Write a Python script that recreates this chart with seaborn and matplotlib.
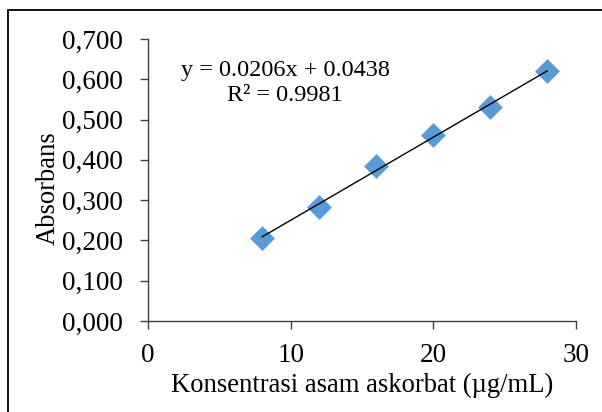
import numpy as np
import pandas as pd
import matplotlib
matplotlib.use("Agg")
import matplotlib.pyplot as plt
import seaborn as sns
from matplotlib.patches import Rectangle

# Data
konsentrasi = [8, 12, 16, 20, 24, 28]
absorbans = [0.207, 0.284, 0.385, 0.462, 0.532, 0.620]
x_ticks = [0, 10, 20, 30]
y_ticks = [0.0, 0.1, 0.2, 0.3, 0.4, 0.5, 0.6, 0.7]
eq_text = "y = 0.0206x + 0.0438"
r2_text = "R\u00b2 = 0.9981"
x_label = "Konsentrasi asam askorbat (\u00b5g/mL)"
y_label = "Absorbans"

sns.set_theme(style="white")
plt.rcParams['font.family'] = ['Liberation Serif', 'DejaVu Serif']

df = pd.DataFrame({"x": konsentrasi, "y": absorbans})
coef = np.polyfit(df["x"], df["y"], 1)
df["fit"] = np.polyval(coef, df["x"])

fig = plt.figure(figsize=(6.02, 4.12), dpi=100)
ax = fig.add_axes([148/602, 1-321/412, (576-148)/602, (321-39)/412])

sns.lineplot(data=df, x="x", y="fit", ax=ax, color="black", linewidth=1.0, zorder=3)
sns.scatterplot(data=df, x="x", y="y", ax=ax, marker="D", s=160, color="#5B9BD5",
                edgecolor="#5B9BD5", linewidth=0, zorder=2)

ax.set_xlim(0, 30)
ax.set_ylim(0, 0.7)
ax.set_xticks(x_ticks)
ax.set_yticks(y_ticks)
ax.set_yticklabels([f"{v:.3f}".replace(".", ",") for v in y_ticks])
ax.set_xticklabels([str(v) for v in x_ticks])
ax.tick_params(axis="both", which="both", direction="out", length=6, width=1,
               color="#404040", labelsize=19.5, labelcolor="black",
               bottom=True, left=True)
ax.tick_params(axis="y", pad=12)
ax.tick_params(axis="x", pad=10)
for side in ["top", "right"]:
    ax.spines[side].set_visible(False)
for side in ["left", "bottom"]:
    ax.spines[side].set_color("#404040")
    ax.spines[side].set_linewidth(1.0)

ax.set_xlabel(x_label, fontsize=19.2, color="black", labelpad=3)
ax.set_ylabel(y_label, fontsize=19.2, color="black")
ax.yaxis.set_label_coords(-0.203, 0.472)

ax.text(0.32, 0.89, eq_text, transform=ax.transAxes, ha="center", va="center",
        fontsize=17.5, color="black")
ax.text(0.32, 0.80, r2_text, transform=ax.transAxes, ha="center", va="center",
        fontsize=17.5, color="black")

fig.patches.append(Rectangle((8/602, -0.5), 2.0, 0.5 + 1 - 10/412, transform=fig.transFigure,
                             fill=False, edgecolor="black", linewidth=1.3))

fig.savefig("out.png", dpi=100)
